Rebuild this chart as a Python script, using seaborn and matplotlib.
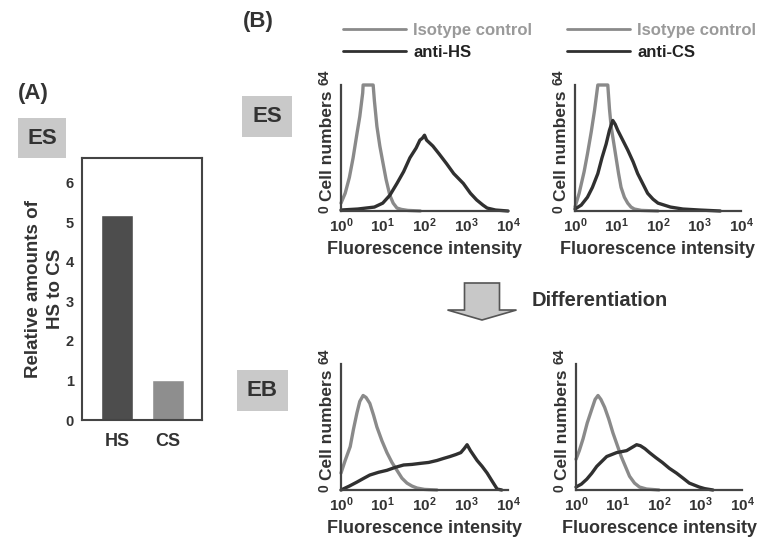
import matplotlib
matplotlib.use("Agg")
import matplotlib.pyplot as plt
from matplotlib.patches import FancyArrow
import seaborn as sns

sns.set_style("white")
plt.rcParams['font.family'] = ['Liberation Sans', 'DejaVu Sans']
plt.rcParams['font.weight'] = 'bold'
plt.rcParams['axes.labelweight'] = 'bold'
plt.rcParams['mathtext.fontset'] = 'custom'
plt.rcParams['mathtext.rm'] = 'Liberation Sans'
plt.rcParams['mathtext.it'] = 'Liberation Sans'

#########################
#   (A) BAR CHART DATA  #
#########################
bar_labels = ['HS', 'CS']
bar_values = [5.2, 1.0]
bar_colors = ['#4d4d4d', '#8e8e8e']

#########################
# (B) FACS HISTOGRAMS   #
#   x = log10 intensity #
#########################
# ES, anti-HS
es_hs_iso_x = [0.0, 0.1, 0.2, 0.29, 0.38, 0.45, 0.52, 0.53, 0.77, 0.8, 0.86, 0.93, 1.0, 1.08, 1.17, 1.25, 1.34, 1.45, 1.6, 1.9]
es_hs_iso_y = [4, 9, 17, 27, 39, 48, 60, 64, 64, 56, 43, 33, 25, 16, 8, 4, 1.5, 0.8, 0.3, 0]
es_hs_ab_x = [0.0, 0.4, 0.8, 1.0, 1.17, 1.34, 1.5, 1.65, 1.8, 1.89, 1.95, 2.0, 2.05, 2.1, 2.2, 2.35, 2.53, 2.7, 2.93, 3.1, 3.25, 3.4, 3.5, 3.7, 4.0]
es_hs_ab_y = [0.5, 1, 2, 4, 8, 14, 20, 27, 32, 36, 37, 38.5, 36, 35, 33, 29, 24, 19, 14, 9, 5.6, 3, 1.5, 0.5, 0]

# ES, anti-CS
es_cs_iso_x = [0.0, 0.1, 0.22, 0.3, 0.39, 0.47, 0.55, 0.79, 0.83, 0.87, 0.93, 0.99, 1.05, 1.11, 1.19, 1.27, 1.35, 1.43, 1.6, 2.0]
es_cs_iso_y = [2, 9, 20, 29, 40, 51, 64, 64, 52, 43, 35, 27, 19, 12, 7, 4, 2, 1, 0.3, 0]
es_cs_ab_x = [0.0, 0.15, 0.3, 0.42, 0.55, 0.65, 0.75, 0.83, 0.91, 0.97, 1.03, 1.15, 1.27, 1.4, 1.51, 1.63, 1.75, 1.88, 2.0, 2.15, 2.3, 2.6, 3.0, 3.5]
es_cs_ab_y = [1, 3, 7, 12, 19, 27, 34, 41, 46, 44, 41, 36, 31, 25, 19, 14, 9, 6, 4, 3, 2, 1, 0.5, 0]

# EB, anti-HS
eb_hs_iso_x = [0.0, 0.1, 0.22, 0.3, 0.38, 0.45, 0.53, 0.6, 0.69, 0.78, 0.86, 0.98, 1.1, 1.22, 1.34, 1.46, 1.58, 1.7, 1.82, 2.0, 2.3]
eb_hs_iso_y = [8.6, 15, 22, 31, 39, 45, 48, 47, 44, 38, 32, 25, 19, 14, 10, 6, 3.5, 2, 1, 0.3, 0]
eb_hs_ab_x = [0.0, 0.2, 0.38, 0.55, 0.69, 0.9, 1.1, 1.3, 1.5, 1.7, 1.89, 2.1, 2.3, 2.45, 2.61, 2.75, 2.87, 2.95, 3.02, 3.1, 3.26, 3.38, 3.5, 3.62, 3.74, 3.85]
eb_hs_ab_y = [0, 2, 4, 6, 7.6, 9, 10, 11.5, 12.7, 13, 13.5, 14, 15, 16, 17, 18, 19, 21, 23, 20, 15, 12, 8.6, 4.5, 0.5, 0]

# EB, anti-CS
eb_cs_iso_x = [0.0, 0.08, 0.17, 0.27, 0.38, 0.46, 0.53, 0.6, 0.69, 0.79, 0.89, 0.99, 1.09, 1.19, 1.29, 1.41, 1.53, 1.7, 2.0]
eb_cs_iso_y = [15.6, 20, 26, 34, 41, 46, 48, 46, 42, 36, 29, 23, 17, 12, 7, 3.5, 1.5, 0.5, 0]
eb_cs_ab_x = [0.0, 0.13, 0.26, 0.38, 0.5, 0.62, 0.74, 0.86, 0.98, 1.1, 1.22, 1.34, 1.46, 1.55, 1.66, 1.77, 1.92, 2.08, 2.25, 2.42, 2.58, 2.73, 2.85, 2.97, 3.1, 3.3]
eb_cs_ab_y = [1.5, 3, 5.5, 8.5, 12, 14.5, 17, 18, 19, 19.5, 20, 21.5, 23, 22.5, 21, 19, 16.5, 14, 11, 8.6, 6, 3.5, 2.5, 1.5, 0.7, 0]

decade_ticks = [0, 1, 2, 3, 4]
decade_labels = [r'$10^{0}$', r'$10^{1}$', r'$10^{2}$', r'$10^{3}$', r'$10^{4}$']

iso_color = '#8a8a8a'
ab_color = '#303030'
box_color = '#c9c9c9'
text_color = '#333333'

W, H = 760, 540
fig = plt.figure(figsize=(7.6, 5.4), dpi=100)


def px(x0, y0, x1, y1):
    # pixel box (top-left origin) -> figure fraction rect
    return [x0 / W, (H - y1) / H, (x1 - x0) / W, (y1 - y0) / H]


#########################
#       PANEL (A)       #
#########################
axA = fig.add_axes(px(82, 158, 202, 420))
sns.barplot(x=bar_labels, y=bar_values, hue=bar_labels, palette=bar_colors,
            width=0.63, saturation=1, legend=False, ax=axA)
axA.set_xlim(-0.70, 1.67)
axA.set_ylim(0, 6.63)
axA.set_yticks(range(7))
axA.tick_params(axis='y', direction='in', length=3, width=1, pad=6,
                labelsize=10.5, labelcolor=text_color, color='#444444')
axA.tick_params(axis='x', length=0, pad=9, labelsize=13, labelcolor=text_color)
for s in axA.spines.values():
    s.set_visible(True)
    s.set_color('#444444')
    s.set_linewidth(1.5)
axA.set_ylabel('Relative amounts of\nHS to CS', fontsize=13.5, color=text_color,
               linespacing=1.4)
axA.yaxis.set_label_coords(-0.15, 0.5)
axA.set_xlabel('')

fig.text(33 / W, 1 - 94 / H, '(A)', fontsize=16, color=text_color, ha='center', va='center')
fig.text(42 / W, 1 - 138 / H, 'ES', fontsize=16, color=text_color, ha='center', va='center',
         bbox=dict(boxstyle='square,pad=0.42', fc=box_color, ec='none'))


#########################
#       PANEL (B)       #
#########################
def hist_panel(rect, iso_x, iso_y, ab_x, ab_y, ab_label, top, leg_x=0.0):
    ax = fig.add_axes(rect)
    sns.lineplot(x=iso_x, y=iso_y, color=iso_color, lw=2.4, sort=False,
                 label='Isotype control', ax=ax, clip_on=False)
    sns.lineplot(x=ab_x, y=ab_y, color=ab_color, lw=2.4, sort=False,
                 label=ab_label, ax=ax, clip_on=False)
    ax.set_xlim(0, 4)
    ax.set_ylim(0, 64)
    ax.set_xticks(decade_ticks)
    ax.set_xticklabels(decade_labels)
    ax.set_yticks([0, 64])
    ax.set_yticklabels(['0', '64'], rotation=90)
    ax.get_yticklabels()[1].set_va('bottom')
    ax.tick_params(axis='x', direction='in', length=3, color='#444444', pad=4,
                   labelsize=11, labelcolor=text_color)
    ax.tick_params(axis='y', length=0, pad=7, labelsize=10, labelcolor=text_color)
    for side in ['top', 'right']:
        ax.spines[side].set_visible(False)
    for side in ['left', 'bottom']:
        ax.spines[side].set_color('#444444')
        ax.spines[side].set_linewidth(1.6)
    ax.set_ylabel('Cell numbers', fontsize=12.5, color=text_color)
    ax.yaxis.set_label_coords(-0.035, 0.52)
    ax.set_xlabel('Fluorescence intensity', fontsize=13, color=text_color)
    ax.xaxis.set_label_coords(0.5, -0.24)
    if top:
        leg = ax.legend(loc='lower left', bbox_to_anchor=(leg_x, 1.2), frameon=False,
                        fontsize=12, handlelength=3.8, handletextpad=0.4,
                        labelspacing=0.42, borderpad=0, borderaxespad=0)
        for t, c in zip(leg.get_texts(), ['#9a9a9a', '#222222']):
            t.set_color(c)
        for ln in leg.get_lines():
            ln.set_linewidth(2)
    else:
        leg = ax.get_legend()
        if leg is not None:
            leg.remove()
    return ax


hist_panel(px(341, 85, 508, 211), es_hs_iso_x, es_hs_iso_y, es_hs_ab_x, es_hs_ab_y, 'anti-HS', True, 0.012)
hist_panel(px(575, 85, 741, 211), es_cs_iso_x, es_cs_iso_y, es_cs_ab_x, es_cs_ab_y, 'anti-CS', True, -0.048)
hist_panel(px(341, 364, 508, 490), eb_hs_iso_x, eb_hs_iso_y, eb_hs_ab_x, eb_hs_ab_y, 'anti-HS', False)
hist_panel(px(576, 364, 742, 490), eb_cs_iso_x, eb_cs_iso_y, eb_cs_ab_x, eb_cs_ab_y, 'anti-CS', False)

fig.text(258 / W, 1 - 22 / H, '(B)', fontsize=16, color=text_color, ha='center', va='center')
fig.text(267 / W, 1 - 116 / H, 'ES', fontsize=16, color=text_color, ha='center', va='center',
         bbox=dict(boxstyle='square,pad=0.45', fc=box_color, ec='none'))
fig.text(262 / W, 1 - 390 / H, 'EB', fontsize=16, color=text_color, ha='center', va='center',
         bbox=dict(boxstyle='square,pad=0.45', fc=box_color, ec='none'))

# differentiation arrow (inches from bottom-left)
arrow = FancyArrow(4.82, 2.57, 0, -0.37, width=0.35, head_width=0.69, head_length=0.10,
                   length_includes_head=True, fc='#c8c8c8', ec='#555555', lw=1.2,
                   transform=fig.dpi_scale_trans)
fig.add_artist(arrow)
fig.text(532 / W, 1 - 300 / H, 'Differentiation', fontsize=14.5, color=text_color,
         ha='left', va='center')

fig.savefig('out.png', dpi=100)
